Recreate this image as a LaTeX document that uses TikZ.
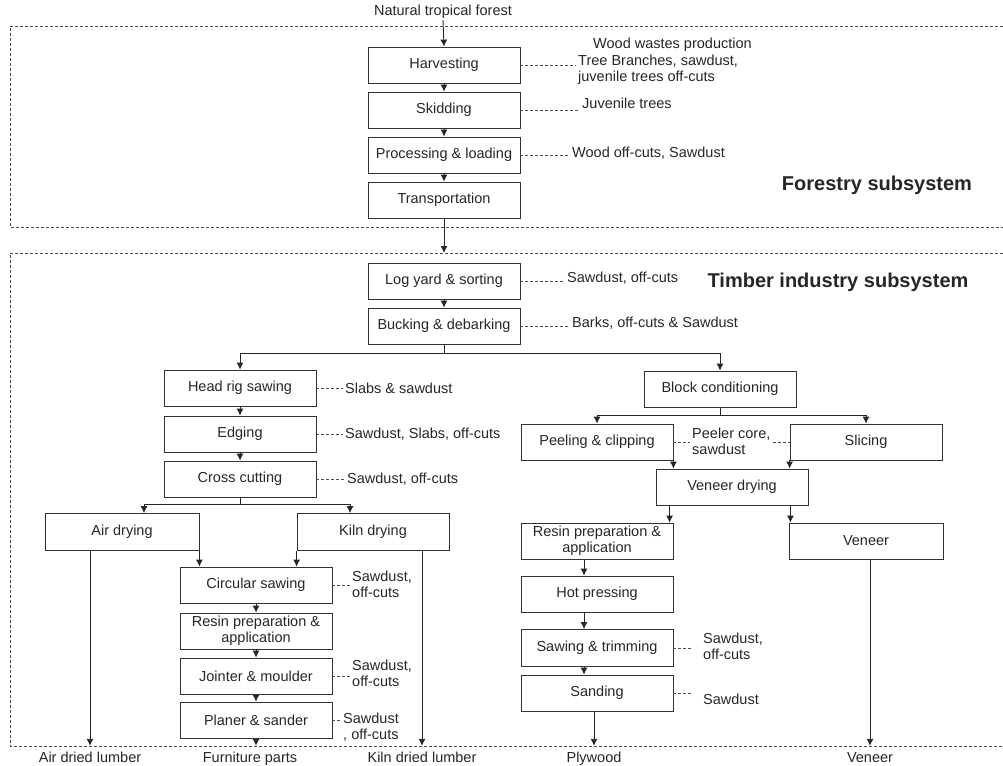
\documentclass[tikz,border=0pt]{standalone}
\usepackage{fontspec}
\setmainfont{Liberation Sans}
\usetikzlibrary{arrows.meta}
\begin{document}
\begin{tikzpicture}[x=1pt,y=-1pt,
  stepbox/.style={draw=black!80, line width=0.8pt, minimum width=152pt, minimum height=36pt,
    inner sep=0pt, align=center, text=black!85, font=\fontsize{14.5}{16}\selectfont},
  lbl/.style={font=\fontsize{14.5}{16}\selectfont, align=left, anchor=west, inner sep=2pt, text=black!85},
  outlbl/.style={font=\fontsize{14.5}{16}\selectfont, text=black!85, inner xsep=1pt, inner ysep=5pt,
    text height=11pt, text depth=3pt},
  ttl/.style={font=\fontsize{20}{24}\selectfont\bfseries, text=black!85},
  flow/.style={draw=black!85, line width=0.9pt, -{Latex[length=7pt,width=7pt]}},
  plain/.style={draw=black!85, line width=0.9pt},
  link/.style={draw=black!70, line width=0.7pt, dash pattern=on 3pt off 2pt},
  frame/.style={draw=black!70, line width=0.7pt, dash pattern=on 3pt off 2pt},
]
\useasboundingbox (0,0) rectangle (1003,765);

% ---------------- Forestry subsystem ----------------
\draw[frame] (1003,26) -- (10,26) -- (10,227) -- (1003,227);
\node[font=\fontsize{14.5}{16}\selectfont, text=black!85, inner sep=1pt] (forest) at (443,12) {Natural tropical forest};
\node[stepbox] (harv)  at (444,65)  {Harvesting};
\node[stepbox] (skid)  at (444,110) {Skidding};
\node[stepbox] (procl) at (444,155) {Processing \& loading};
\node[stepbox] (trans) at (444,200) {Transportation};

\node[lbl] (wwp)   at (591,45)  {Wood wastes production};
\node[lbl] (harvL) at (576,70)  {Tree Branches, sawdust,\\juvenile trees off-cuts};
\node[lbl] (skidL) at (580,103) {Juvenile trees};
\node[lbl] (procL) at (570,153) {Wood off-cuts, Sawdust};
\node[ttl] (forsys) at (877,185) {Forestry subsystem};

\draw[flow] (forest.south) -- (harv.north);
\draw[flow] (harv) -- (skid);
\draw[flow] (skid) -- (procl);
\draw[flow] (procl) -- (trans);
\draw[link] (harv.east) -- (harv.east -| harvL.west);
\draw[link] (skid.east) -- (skid.east -| skidL.west);
\draw[link] (procl.east) -- (procl.east -| procL.west);

\coordinate (tin) at (444,253);
\draw[flow] (trans.south) -- (tin);

% ---------------- Timber industry subsystem ----------------
\draw[frame] (1003,253) -- (10,253) -- (10,746) -- (1003,746);
\node[stepbox] (log)  at (444,281) {Log yard \& sorting};
\node[stepbox] (buck) at (444,326) {Bucking \& debarking};
\node[lbl] (logL)  at (565,278) {Sawdust, off-cuts};
\node[lbl] (buckL) at (570,323) {Barks, off-cuts \& Sawdust};
\node[ttl] (timsys) at (838,282) {Timber industry subsystem};
\draw[flow] (log) -- (buck);
\draw[link] (log.east) -- (log.east -| logL.west);
\draw[link] (buck.east) -- (buck.east -| buckL.west);

% sawmill line
\node[stepbox] (head)  at (240,388) {Head rig sawing};
\node[stepbox] (edge)  at (240,434) {Edging};
\node[stepbox] (cross) at (240,479) {Cross cutting};
\node[lbl] (headL)  at (343,388) {Slabs \& sawdust};
\node[lbl] (edgeL)  at (343,434) {Sawdust, Slabs, off-cuts};
\node[lbl] (crossL) at (345,479) {Sawdust, off-cuts};

% veneer / plywood line
\node[stepbox] (block) at (720,389) {Block conditioning};

\coordinate (bsplit) at (444,353);
\draw[plain] (buck.south) -- (bsplit);
\draw[flow] (bsplit) -| (head.north);
\draw[flow] (bsplit) -| (block.north);

\draw[flow] (head) -- (edge);
\draw[flow] (edge) -- (cross);
\draw[link] (head.east) -- (head.east -| headL.west);
\draw[link] (edge.east) -- (edge.east -| edgeL.west);
\draw[link] (cross.east) -- (cross.east -| crossL.west);

\node[stepbox, minimum width=154pt, minimum height=37pt] (air)  at (122,532) {Air drying};
\node[stepbox, minimum height=37pt] (kiln) at (373,532) {Kiln drying};
\coordinate (csplit) at (240,504);
\draw[plain] (cross.south) -- (csplit);
\draw[flow] (csplit) -| ([xshift=22pt]air.north);
\draw[flow] (csplit) -| ([xshift=-23pt]kiln.north);

\node[stepbox] (circ)   at (256,585) {Circular sawing};
\node[stepbox] (resinA) at (256,631) {Resin preparation \&\\application};
\node[stepbox] (joint)  at (256,676) {Jointer \& moulder};
\node[stepbox] (plane)  at (256,720) {Planer \& sander};
\node[lbl] (circL)  at (350,584) {Sawdust,\\off-cuts};
\node[lbl] (jointL) at (350,673) {Sawdust,\\off-cuts};
\node[lbl] (planeL) at (341,727) {Sawdust\\, off-cuts};

\draw[flow] (air.south east) -- (air.south east |- circ.north);
\draw[flow] (kiln.south west) -- (kiln.south west |- circ.north);
\draw[flow] (circ) -- (resinA);
\draw[flow] (resinA) -- (joint);
\draw[flow] (joint) -- (plane);
\draw[link] (circ.east) -- (circ.east -| circL.west);
\draw[link] (joint.east) -- (joint.east -| jointL.west);
\draw[link] (plane.east) -- (plane.east -| planeL.west);

% products of the sawmill line
\node[outlbl] (airlab)  at (90,758)  {Air dried lumber};
\node[outlbl] (furnlab) at (250,758) {Furniture parts};
\node[outlbl] (kilnlab) at (422,758) {Kiln dried lumber};
\draw[flow] (air.south -| airlab.north) -- (airlab.north);
\draw[flow] (plane.south) -- (plane.south |- furnlab.north);
\draw[flow] (kiln.south -| kilnlab.north) -- (kilnlab.north);

% veneer / plywood line
\node[stepbox] (peel)  at (597,442) {Peeling \& clipping};
\node[stepbox] (slice) at (866,442) {Slicing};
\node[lbl] (pcL) at (690,441) {Peeler core,\\sawdust};
\coordinate (ksplit) at (720,415);
\draw[plain] (block.south) -- (ksplit);
\draw[flow] (ksplit) -| (peel.north);
\draw[flow] (ksplit) -| (slice.north);
\draw[link] (peel.east) -- (peel.east -| pcL.west);
\draw[link] (pcL.east |- slice.west) -- (slice.west);

\node[stepbox] (vdry) at (732,487) {Veneer drying};
\draw[flow] (peel.south east) -- (peel.south east |- vdry.north);
\draw[flow] (slice.south west) -- (slice.south west |- vdry.north);

\node[stepbox] (resinB)  at (597,541) {Resin preparation \&\\application};
\node[stepbox, minimum width=154pt] (veneerb) at (866,541) {Veneer};
\path ([xshift=14pt]vdry.south west) coordinate (v1);
\path ([xshift=-18pt]vdry.south east) coordinate (v2);
\draw[flow] (v1) -- (v1 |- resinB.north);
\draw[flow] (v2) -- (v2 |- veneerb.north);

\node[stepbox] (hot)  at (597,594) {Hot pressing};
\node[stepbox, minimum height=37pt] (saw)  at (597,648) {Sawing \& trimming};
\node[stepbox] (sand) at (597,693) {Sanding};
\node[lbl] (sawL)  at (701,646) {Sawdust,\\off-cuts};
\node[lbl] (sandL) at (701,699) {Sawdust};

\path ([xshift=-13pt]resinB.south) coordinate (r1);
\path ([xshift=-13pt]hot.south) coordinate (r2);
\path ([xshift=-13pt]saw.south) coordinate (r3);
\draw[flow] (r1) -- (r1 |- hot.north);
\draw[flow] (r2) -- (r2 |- saw.north);
\draw[flow] (r3) -- (r3 |- sand.north);
\draw[link, shorten >=9pt] (saw.east) -- (saw.east -| sawL.west);
\draw[link, shorten >=9pt] (sand.east) -- (sand.east -| sandL.west);

\node[outlbl] (plylab) at (594,758) {Plywood};
\node[outlbl] (venlab) at (870,758) {Veneer};
\draw[flow] (sand.south -| plylab.north) -- (plylab.north);
\draw[flow] (veneerb.south -| venlab.north) -- (venlab.north);

\end{tikzpicture}
\end{document}
